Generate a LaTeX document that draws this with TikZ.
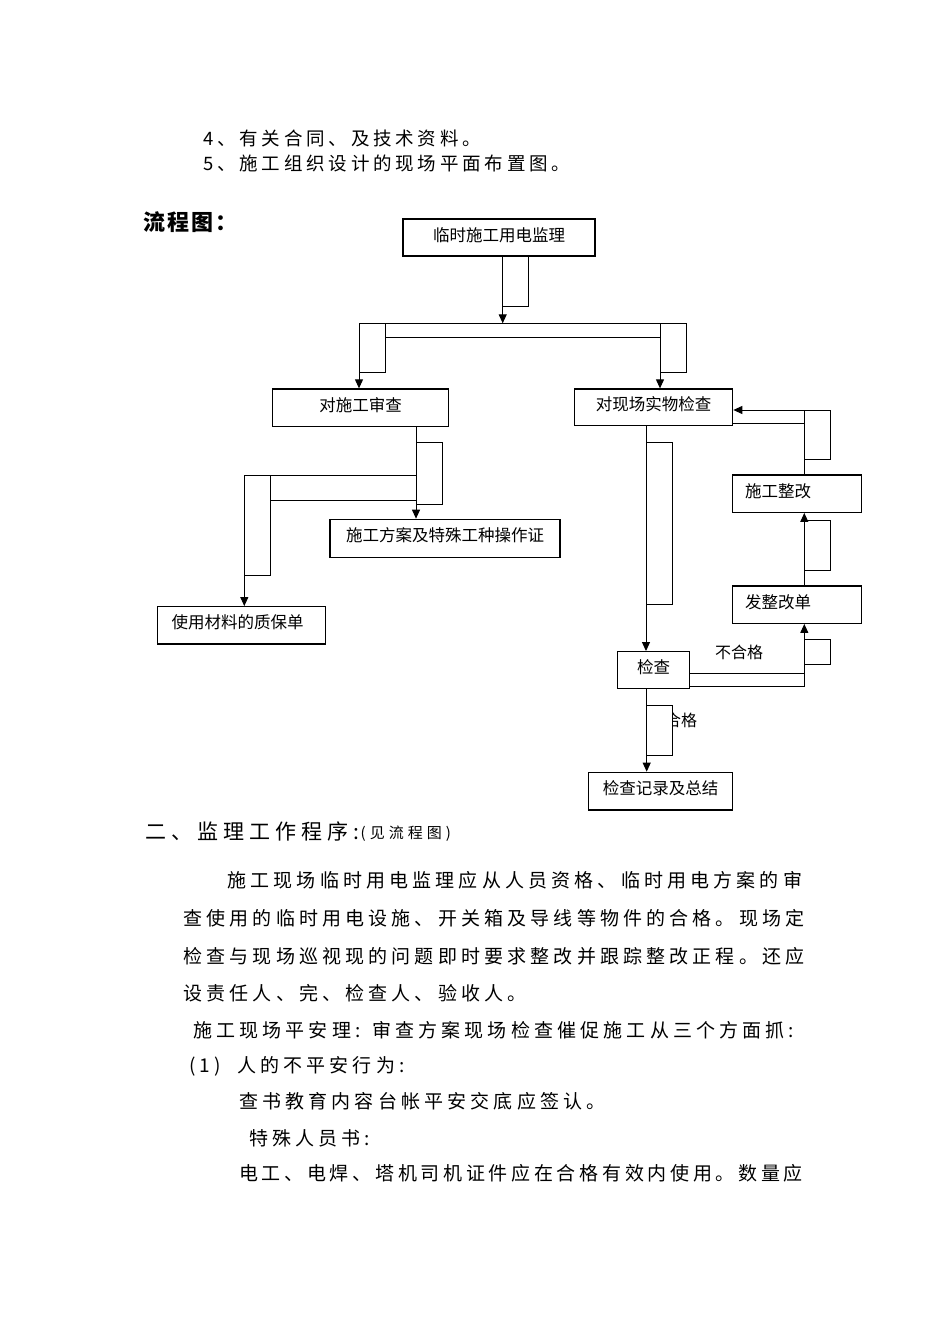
\documentclass[tikz,border=0pt]{standalone}
\usepackage{fontspec}
\setmainfont{Noto Sans CJK SC}
\usetikzlibrary{arrows.meta}
\newlength\spgap
\newcommand\spc[2]{\setlength\spgap{#1}\spcloop#2\relax}
\def\spcloop#1{\ifx#1\relax\else#1\kern\spgap\expandafter\spcloop\fi}
\begin{document}
\begin{tikzpicture}[x=1pt,y=-1pt,
  box/.style={draw, line width=1.3pt, inner sep=0pt, font=\fontsize{16.5pt}{18pt}\selectfont, text height=12pt, text depth=5pt},
  ln/.style={line width=1pt},
  arr/.style={line width=1pt, -{Triangle[length=9pt,width=8pt]}},
  txt/.style={anchor=base west, inner sep=0pt},
  toptxt/.style={txt, font=\fontsize{18.5pt}{20pt}\selectfont},
  bodytxt/.style={txt, font=\fontsize{19pt}{21pt}\selectfont},
  headtxt/.style={txt, font=\fontsize{21pt}{23pt}\selectfont},
  smalltxt/.style={txt, font=\fontsize{15pt}{17pt}\selectfont},
  flowtxt/.style={txt, font=\fontsize{16pt}{18pt}\selectfont}
]
\fill[white] (0,0) rectangle (950,1344);
\useasboundingbox (0,0) rectangle (950,1344);

% top text
\node[toptxt] (l1) at (203,145.3) {\spc{3.8pt}{4、有关合同、及技术资料。}};
\node[toptxt] (l2) at (203,170.3) {\spc{3.8pt}{5、施工组织设计的现场平面布置图。}};
\node[txt, font=\fontsize{22pt}{24pt}\selectfont\bfseries] (lc) at (143,230) {\spc{2pt}{流程图：}};

% boxes
\node[box, minimum width=192pt, minimum height=37pt] (b1) at (499,237.5) {临时施工用电监理};
\node[box, minimum width=175.6pt, minimum height=37.7pt] (b2) at (360.5,407.85) {对施工审查};
\node[box, minimum width=158.4pt, minimum height=36.7pt] (b3) at (653.5,407.35) {对现场实物检查};
\node[box, minimum width=230pt, minimum height=38pt] (b4) at (445,538.3) {施工方案及特殊工种操作证};
\node[box, minimum width=168.4pt, minimum height=37.3pt, text width=139.6pt, align=left] (b5) at (241.5,625.35) {使用材料的质保单};
\node[box, minimum width=71.6pt, minimum height=36.8pt] (b6) at (653.5,670.1) {检查};
\node[box, minimum width=129pt, minimum height=37.3pt, text width=104.4pt, align=left] (b7) at (797.2,604.65) {发整改单};
\node[box, minimum width=129pt, minimum height=37.3pt, text width=104.4pt, align=left] (b8) at (797.2,493.65) {施工整改};
\node[box, minimum width=144.4pt, minimum height=37.7pt] (b9) at (660.5,791.15) {检查记录及总结};

% b1 -> bar
\coordinate (j1) at (502.7,323.3);
\draw[ln] (j1 |- b1.south) rectangle (528.3,306.7);
\draw[arr] (j1 |- b1.south) -- (j1);
\draw[ln] (359,323.3) -- (686,323.3);
\draw[ln] (385,337.3) -- (660,337.3);
\draw[ln] (359,323.3) rectangle (385,372);
\draw[ln] (660,323.3) rectangle (686,372);
\coordinate (j2) at (359,323.3);
\coordinate (j3) at (660,323.3);
\draw[arr] (j2) -- (j2 |- b2.north);
\draw[arr] (j3) -- (j3 |- b3.north);

% b2 -> b4, b5
\coordinate (j4) at (416,0);
\draw[arr] (j4 |- b2.south) -- (j4 |- b4.north);
\draw[ln] (416,442.3) rectangle (442.3,504);
\draw[ln] (244.3,475) -- (416,475);
\draw[ln] (270,500.7) -- (416,500.7);
\draw[ln] (244.3,475) rectangle (270,575);
\coordinate (j5) at (244.3,475);
\draw[arr] (j5) -- (j5 |- b5.north);

% b3 -> b6
\coordinate (j6) at (646,0);
\draw[arr] (j6 |- b3.south) -- (j6 |- b6.north);
\draw[ln] (646,442.3) rectangle (672.3,604);

% b6 -> b7 -> b8 -> b3
\coordinate (k1) at (804.3,673.3);
\coordinate (k2) at (804.3,686.7);
\draw[ln] (b6.east |- k1) -- (k1);
\draw[ln] (b6.east |- k2) -- (k2);
\draw[arr] (k2) -- (k2 |- b7.south);
\draw[ln] (804.3,639.3) rectangle (830,664);
\draw[arr] (k2 |- b7.north) -- (k2 |- b8.south);
\draw[ln] (804.3,520.7) rectangle (830,570.7);
\coordinate (k3) at (804.3,410);
\coordinate (k4) at (830,410);
\coordinate (k5) at (804.3,423.3);
\draw[ln] (k3 |- b8.north) -- (k3);
\draw[arr] (k4) -- (b3.east |- k4);
\draw[ln] (k4) -- (830,459) -- (804.3,459);
\draw[ln] (b3.east |- k5) -- (k5);
\node[flowtxt] (ng) at (715,658.8) {不合格};

% b6 -> b9
\coordinate (j7) at (646.7,0);
\node[flowtxt] (hg) at (665,726) {合格};
\draw[ln, fill=white] (646.7,705.7) rectangle (672.3,755.7);
\draw[arr] (j7 |- b6.south) -- (j7 |- b9.north);

% lower text
\node[headtxt] (h1) at (145.5,839.7) {\spc{5pt}{二、监理工作程序:}};
\node[smalltxt] (h2) at (360.5,838.7) {\spc{4pt}{(见流程图)}};
\node[bodytxt] (pa) at (227.3,887.2) {\spc{4.15pt}{施工现场临时用电监理应从人员资格、临时用电方案的审}};
\node[bodytxt] (pb) at (183.3,925.5) {\spc{4.15pt}{查使用的临时用电设施、开关箱及导线等物件的合格。现场定}};
\node[bodytxt] (pc) at (183.3,963.9) {\spc{4.15pt}{检查与现场巡视现的问题即时要求整改并跟踪整改正程。还应}};
\node[bodytxt] (pd) at (183.3,1000.5) {\spc{4.15pt}{设责任人、完、检查人、验收人。}};
\node[bodytxt] (pe1) at (193,1037.2) {\spc{4.15pt}{施工现场平安理:}};
\node[bodytxt] (pe2) at (372,1037.2) {\spc{4.15pt}{审查方案现场检查催促施工从三个方面抓:}};
\node[bodytxt] (pf1) at (189,1072.2) {\spc{4.15pt}{(1)}};
\node[bodytxt] (pf2) at (237,1072.2) {\spc{4.15pt}{人的不平安行为:}};
\node[bodytxt] (pg) at (239,1108.9) {\spc{4.15pt}{查书教育内容台帐平安交底应签认。}};
\node[bodytxt] (ph) at (249,1145.5) {\spc{4.15pt}{特殊人员书:}};
\node[bodytxt] (pi) at (239,1180.5) {\spc{3.7pt}{电工、电焊、塔机司机证件应在合格有效内使用。数量应}};
\end{tikzpicture}
\end{document}
